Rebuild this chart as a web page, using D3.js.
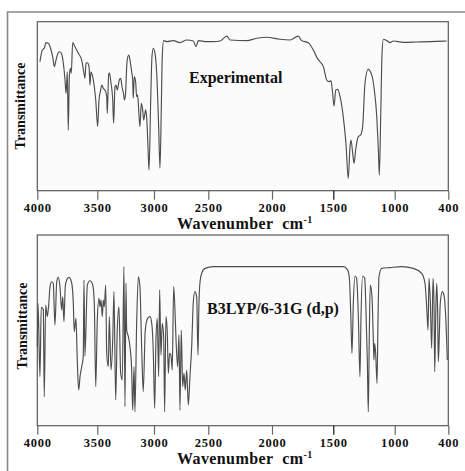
<!DOCTYPE html>
<html>
<head>
<meta charset="utf-8">
<script src="https://cdn.jsdelivr.net/npm/d3@7/dist/d3.min.js"></script>
<style>
body { margin: 0; background: #fff; }
text { font-family: "Liberation Serif", "Times New Roman", serif; font-weight: bold; fill: #111; }
</style>
</head>
<body>
<div id="chart"></div>
<script>
// experimental FT-IR (wavenumber, transmittance %)
var expWn = [3978,3958,3942,3928,3908,3894,3872,3858,3844,3825,3811,3797,3783,3769,3761,3755,3750,3742,3733,3725,3717,3705,
  3686,3658,3630,3611,3603,3594,3583,3569,3561,3553,3542,3525,3513,3497,3485,3470,3461,3447,3426,3417,3412,3400,3394,3379,
  3364,3356,3344,3335,3324,3306,3294,3282,3267,3262,3253,3238,3223,3212,3197,3188,3183,3174,3162,3153,3144,3135,3124,3112,
  3100,3091,3082,3074,3065,3053,3044,3029,3018,3006,2991,2975,2957,2945,2933,2924,2911,2883,2822,2761,2699,2638,2613,2592,
  2515,2461,2408,2355,2329,2199,2120,2042,1935,1853,1785,1758,1704,1663,1630,1608,1581,1554,1535,1519,1508,1494,1480,1464,
  1445,1419,1397,1378,1364,1356,1342,1331,1318,1296,1277,1261,1242,1217,1187,1166,1146,1133,1125,1114,1103,1092,1065,1038,
  1011,904,754,605,418]
var expT = [76.3,83.3,84.3,87.6,87.2,85.2,79.3,73.4,77.3,81.7,82.2,80.9,75.4,65.5,57.6,63.6,70.4,35.9,67.5,72.4,69.5,87.6,
  85.2,81.3,77.3,69.5,66.5,75.4,75.7,73.4,62.5,70.4,68.5,61.5,53.7,37.9,53.7,59.6,62.5,60.6,58.6,55.6,45.8,68.5,69.8,63.6,
  53.7,39.9,61.5,62.5,59.6,65.5,66.5,61.5,56.6,53.7,55.6,76.3,80.3,77.3,70.4,65.5,54.7,67.5,64.5,55.6,56.6,47.8,37.9,51.7,
  47.8,41.8,44.8,47.8,43.8,26,12.2,53.7,79.3,84.3,81.3,69.5,37.9,13.3,47.8,79.3,88.8,88.2,88.8,87.6,89.2,88.6,85.2,88.8,
  88.2,88.2,88.6,91.5,89.2,88.8,90.2,90.8,89.6,89.2,91.5,88.8,87.6,83.3,78.3,76.3,73.4,65.5,64.5,65.1,59.6,50.1,59.6,60,
  55.6,43.8,28,7.3,26,30,22.1,16.2,24.1,32,33,37.9,63.6,71.8,68.5,59.6,43.8,24.1,9.3,43.8,81.3,89.6,88.8,87.6,
  88.6,87.8,88,88.2,88.6]

// B3LYP/6-31G (d,p) computed spectrum
var calcWn = [4000,3994,3978,3967,3950,3942,3930,3917,3905,3894,3880,3867,3853,3838,3825,3811,3797,3788,3778,3767,3755,3736,
  3713,3700,3692,3678,3667,3655,3644,3630,3617,3611,3603,3583,3561,3538,3525,3513,3500,3485,3476,3467,3456,3447,3438,3426,
  3417,3403,3394,3379,3364,3353,3338,3324,3309,3294,3280,3265,3256,3247,3241,3226,3212,3197,3188,3176,3168,3153,3138,3124,
  3109,3095,3077,3056,3035,3020,3006,2994,2982,2970,2957,2948,2936,2924,2911,2902,2890,2878,2868,2856,2844,2832,2819,2807,
  2797,2782,2770,2761,2749,2736,2724,2712,2699,2684,2669,2653,2638,2623,2607,2595,2586,2576,2561,2530,2461,2330,1799,1419,
  1386,1370,1358,1348,1337,1323,1310,1296,1283,1275,1261,1244,1234,1223,1215,1207,1199,1185,1174,1169,1163,1155,1144,1136,
  1128,1106,1038,922,792,698,661,642,627,616,602,586,571,560,552,541,530,519,512,501,490,467,448,429,411]
var calcT = [41.4,64.2,25.7,62.1,61,15.2,63.3,57.2,63.3,72.9,75.5,74.7,52.8,75.5,77.8,72.9,60.7,67.6,54.5,72.9,76.4,77.8,
  74.7,64.2,49.3,56.3,34.5,18.7,25.7,30.9,36.2,76.4,36.5,73.8,76,73.8,64.2,20.5,55.4,66.8,62.4,65.9,57.2,65.9,62.4,73.8,
  38,30.9,57.2,29.2,44.9,70.3,13.5,50.2,62.4,27.5,24,83.4,10,74.7,50.2,46.7,41.4,29.2,8.2,30.9,7.3,53.7,78.1,72.9,
  41.4,17.8,50.2,56.3,57.2,53.7,38,9.1,44.9,56.3,25.7,71.2,37.1,53.7,46.7,7.3,57.2,49.3,27.5,38,37.1,29.2,72.9,60.7,
  44.9,30.9,47.6,8.2,50.2,20.5,27.5,18.7,29.2,10.9,25.7,41.4,65,70.3,67.6,37.1,64.2,75.5,79.9,82.5,83.4,83.4,83.4,83.4,
  82,78.1,58.9,38,64.2,78.5,77.3,57.2,25.7,55.4,78.5,77.3,60.7,34.5,7.3,46.7,73.8,67.6,44.9,34.5,43.2,38,22.2,55.4,
  78.1,82.5,82.9,83.4,82.5,79.9,74.7,62.4,50.2,77.3,65.9,40.6,77.3,64.2,28.3,57.2,74.7,58.9,33.6,46.7,64.2,70.3,68.5,57.2,34.5]

var tickVals = [4000,3500,3000,2500,2000,1500,1000,400]
var tickLabels = ["4000","3500","3000","2500","2000","1500","1000","400"]
var panelLabels = ["Experimental","B3LYP/6-31G (d,p)"]

var width = 465, height = 471

var svg = d3.select("#chart").append("svg")
    .attr("width", width)
    .attr("height", height)

// outer frame (only left and top edges are in view)
svg.append("path")
    .attr("d", "M7.5," + height + "V12H" + width)
    .attr("fill", "none")
    .attr("stroke", "#8a8a8a")
    .attr("stroke-width", 1.6)

// the wavenumber axis is not evenly spaced in the original figure
var x = d3.scaleLinear()
    .domain(tickVals)
    .range([37.3, 97.3, 154, 208.3, 272, 333.3, 394.7, 448.3])

var panels = [
  {top: 21.7, bottom: 190.7, wn: expWn, t: expT, label: panelLabels[0], lx: 189, ly: 83, ty: 106, tx: 24.5},
  {top: 235, bottom: 425.7, wn: calcWn, t: calcT, label: panelLabels[1], lx: 207, ly: 314, ty: 326, tx: 26.5}
]

panels.forEach(function(p) {
  var y = d3.scaleLinear().domain([0, 100]).range([p.bottom, p.top])
  var data = p.wn.map(function(d, i) { return {wn: d, t: p.t[i]} })

  svg.append("rect")
      .attr("x", x(4000))
      .attr("y", p.top)
      .attr("width", x(400) - x(4000))
      .attr("height", p.bottom - p.top)
      .attr("fill", "#fbfbfb")
      .attr("stroke", "#5a5a5a")
      .attr("stroke-width", 1.2)

  svg.append("path")
      .datum(data)
      .attr("fill", "none")
      .attr("stroke", "#4d4d4d")
      .attr("stroke-width", 1.15)
      .attr("stroke-linejoin", "round")
      .attr("d", d3.line()
          .curve(d3.curveMonotoneX)
          .x(function(d) { return x(d.wn) })
          .y(function(d) { return y(d.t) }))

  var ax = svg.append("g")
      .attr("transform", "translate(0," + p.bottom + ")")
      .call(d3.axisBottom(x)
          .tickValues(tickVals)
          .tickFormat(function(d, i) { return tickLabels[i] })
          .tickSize(9)
          .tickPadding(3.5))
  ax.select(".domain").remove()
  ax.selectAll(".tick line")
      .attr("stroke", function(d) { return d == 1500 ? "#111" : "#666" })
      .attr("stroke-width", 1.2)
  ax.selectAll(".tick text")
      .attr("font-size", "12.5px")
      .attr("font-family", "Liberation Serif, Times New Roman, serif")
      .attr("font-weight", "bold")
      .attr("letter-spacing", "0.8px")
      .attr("fill", "#111")

  var title = svg.append("text")
      .attr("x", 177)
      .attr("y", p.bottom + 38)
      .attr("font-size", "16px")
      .attr("letter-spacing", "0.4px")
  title.append("tspan").text("Wavenumber\u00a0\u00a0cm")
  title.append("tspan")
      .attr("dy", -6)
      .attr("font-size", "10px")
      .text("-1")

  svg.append("text")
      .attr("transform", "translate(" + p.tx + "," + p.ty + ") rotate(-90)")
      .attr("text-anchor", "middle")
      .attr("font-size", "14px")
      .text("Transmittance")

  svg.append("text")
      .attr("x", p.lx)
      .attr("y", p.ly)
      .attr("font-size", "16px")
      .text(p.label)
})
</script>
</body>
</html>
